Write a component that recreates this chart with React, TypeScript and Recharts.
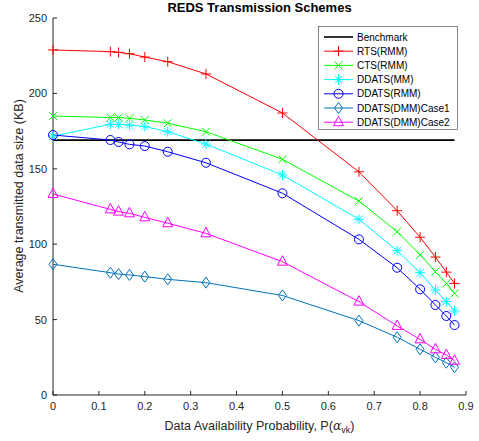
import React from 'react';
import { LineChart, Line, XAxis, YAxis, Legend, Label } from 'recharts';

// P(alpha_vk) sample points
const availability = [0, 0.125, 0.1429, 0.1667, 0.2, 0.25, 0.3333, 0.5, 0.6667, 0.75, 0.8, 0.8333, 0.8571, 0.875];

const benchmark = [169, 169, 169, 169, 169, 169, 169, 169, 169, 169, 169, 169, 169, 169];
const rtsRmm = [228.8, 227.7, 227.2, 226.3, 224.1, 221, 212.9, 187, 148, 122.2, 104.6, 91.5, 81.5, 74];
const ctsRmm = [185, 184, 184, 183.5, 182.4, 180.2, 174.6, 156.3, 128.6, 108.3, 93, 81.8, 74, 67.4];
const ddatsMm = [171.7, 179.5, 179.5, 179, 178, 174.6, 166.4, 145.9, 116.5, 95.7, 81.1, 69.6, 61.9, 55.7];
const ddatsRmm = [172.4, 169.1, 167.8, 166.2, 165.1, 161.3, 154, 133.8, 103.2, 84.4, 70.1, 59.7, 52.4, 46.4];
const ddatsDmmCase1 = [86.7, 81.1, 80.2, 79.6, 78.5, 76.7, 74.5, 66, 49.3, 38.3, 30.3, 25, 21.4, 18.4];
const ddatsDmmCase2 = [133.3, 123.1, 121.6, 120.5, 117.8, 113.9, 107.2, 88.4, 61.9, 45.8, 36.9, 30.3, 26.5, 22.7];

const xTicks = [0, 0.1, 0.2, 0.3, 0.4, 0.5, 0.6, 0.7, 0.8, 0.9];
const yTicks = [0, 50, 100, 150, 200, 250];

const data = availability.map((p, i) => ({
  p,
  benchmark: benchmark[i],
  rtsRmm: rtsRmm[i],
  ctsRmm: ctsRmm[i],
  ddatsMm: ddatsMm[i],
  ddatsRmm: ddatsRmm[i],
  case1: ddatsDmmCase1[i],
  case2: ddatsDmmCase2[i],
}));

type Shape = 'none' | 'plus' | 'x' | 'star' | 'circle' | 'diamond' | 'triangle';

const series: { key: string; name: string; color: string; shape: Shape; width: number }[] = [
  { key: 'benchmark', name: 'Benchmark', color: '#000000', shape: 'none', width: 1.6 },
  { key: 'rtsRmm', name: 'RTS(RMM)', color: '#ff0000', shape: 'plus', width: 1 },
  { key: 'ctsRmm', name: 'CTS(RMM)', color: '#00ff00', shape: 'x', width: 1 },
  { key: 'ddatsMm', name: 'DDATS(MM)', color: '#00ffff', shape: 'star', width: 1 },
  { key: 'ddatsRmm', name: 'DDATS(RMM)', color: '#0000ff', shape: 'circle', width: 1 },
  { key: 'case1', name: 'DDATS(DMM)Case1', color: '#0072bd', shape: 'diamond', width: 1 },
  { key: 'case2', name: 'DDATS(DMM)Case2', color: '#ff00ff', shape: 'triangle', width: 1 },
];

const AXIS = '#262626';
const FONT = '"Liberation Sans", Arial, sans-serif';

function Marker({ shape, color, cx, cy }: { shape: Shape; color: string; cx: number; cy: number }) {
  const s = { stroke: color, strokeWidth: 1, fill: 'none' };
  switch (shape) {
    case 'plus':
      return <path d={`M${cx - 5},${cy}H${cx + 5}M${cx},${cy - 5}V${cy + 5}`} {...s} />;
    case 'x':
      return <path d={`M${cx - 4},${cy - 4}L${cx + 4},${cy + 4}M${cx - 4},${cy + 4}L${cx + 4},${cy - 4}`} {...s} />;
    case 'star':
      return (
        <path
          d={`M${cx - 5},${cy}H${cx + 5}M${cx},${cy - 5}V${cy + 5}M${cx - 3.6},${cy - 3.6}L${cx + 3.6},${cy + 3.6}M${cx - 3.6},${cy + 3.6}L${cx + 3.6},${cy - 3.6}`}
          {...s}
        />
      );
    case 'circle':
      return <circle cx={cx} cy={cy} r={4.5} {...s} />;
    case 'diamond':
      return <path d={`M${cx},${cy - 5.5}L${cx + 4},${cy}L${cx},${cy + 5.5}L${cx - 4},${cy}Z`} {...s} />;
    case 'triangle':
      return <path d={`M${cx},${cy - 6}L${cx + 5},${cy + 3.5}L${cx - 5},${cy + 3.5}Z`} {...s} />;
    default:
      return null;
  }
}

const makeDot = (shape: Shape, color: string) => (props: any) => (
  <g key={`${shape}-${props.index}`}>
    <Marker shape={shape} color={color} cx={props.cx} cy={props.cy} />
  </g>
);

const XTick = (props: any) => {
  const { x, y, payload } = props;
  return (
    <g>
      <line x1={x} y1={y} x2={x} y2={y - 4} stroke={AXIS} />
      <text x={x} y={y + 15} textAnchor="middle" fontSize={11} fill={AXIS} fontFamily={FONT}>
        {payload.value}
      </text>
    </g>
  );
};

const YTick = (props: any) => {
  const { x, y, payload } = props;
  return (
    <g>
      <line x1={x} y1={y} x2={x + 4} y2={y} stroke={AXIS} />
      <text x={x - 6} y={y + 4} textAnchor="end" fontSize={11} fill={AXIS} fontFamily={FONT}>
        {payload.value}
      </text>
    </g>
  );
};

const LegendBox = () => (
  <svg width={140} height={104} style={{ display: 'block' }}>
    <rect x={0.5} y={0.5} width={139} height={103} fill="#fff" stroke="#555" strokeWidth={0.7} />
    {series.map((s, i) => {
      const y = 11 + i * 14.2;
      return (
        <g key={s.key}>
          <line x1={6} y1={y} x2={35} y2={y} stroke={s.color} strokeWidth={s.width} />
          <Marker shape={s.shape} color={s.color} cx={20.5} cy={y} />
          <text x={39} y={y + 3.6} fontSize={10} fill="#000" fontFamily={FONT}>
            {s.name}
          </text>
        </g>
      );
    })}
  </svg>
);

export default function App() {
  return (
    <div style={{ position: 'relative', width: 479, height: 441, background: '#fff' }}>
      <style>{'body{margin:0}'}</style>
      <div
        style={{
          position: 'absolute',
          left: 53,
          width: 413,
          top: 0,
          textAlign: 'center',
          fontFamily: FONT,
          fontWeight: 'bold',
          fontSize: 13,
          lineHeight: '16px',
          color: '#000',
          zIndex: 1,
        }}
      >
        REDS Transmission Schemes
      </div>
      <LineChart width={479} height={441} data={data} margin={{ top: 18, right: 13, bottom: 0, left: 0 }}>
        <XAxis
          dataKey="p"
          type="number"
          domain={[0, 0.9]}
          ticks={xTicks}
          height={46}
          tickSize={0}
          tickMargin={0}
          tickLine={false}
          tick={<XTick />}
          axisLine={{ stroke: AXIS }}
          interval={0}
        >
          <Label
            content={({ viewBox }: any) => (
              <text
                x={viewBox.x + viewBox.width / 2}
                y={viewBox.y + 35}
                textAnchor="middle"
                fontSize={12.5}
                fill={AXIS}
                fontFamily={FONT}
              >
                Data Availability Probability, P(
                <tspan fontFamily='"DejaVu Serif", serif' fontStyle="italic">α</tspan>
                <tspan fontSize={9} dy={3}>vk</tspan>
                <tspan dy={-3}>)</tspan>
              </text>
            )}
          />
        </XAxis>
        <YAxis
          type="number"
          domain={[0, 250]}
          ticks={yTicks}
          width={53}
          tickSize={0}
          tickMargin={0}
          tickLine={false}
          tick={<YTick />}
          axisLine={{ stroke: AXIS }}
          interval={0}
        >
          <Label
            content={() => (
              <text
                x={23}
                y={196}
                transform="rotate(-90 23 196)"
                textAnchor="middle"
                fontSize={12.5}
                fill={AXIS}
                fontFamily={FONT}
              >
                Average transmitted data size (KB)
              </text>
            )}
          />
        </YAxis>
        <Legend
          layout="vertical"
          align="center"
          verticalAlign="middle"
          wrapperStyle={{ left: 318, top: 26, width: 140, height: 104 }}
          content={() => <LegendBox />}
        />
        {series.map((s) => (
          <Line
            key={s.key}
            dataKey={s.key}
            name={s.name}
            type="linear"
            stroke={s.color}
            strokeWidth={s.width}
            dot={s.shape === 'none' ? false : makeDot(s.shape, s.color)}
            activeDot={false}
            isAnimationActive={false}
          />
        ))}
      </LineChart>
    </div>
  );
}
